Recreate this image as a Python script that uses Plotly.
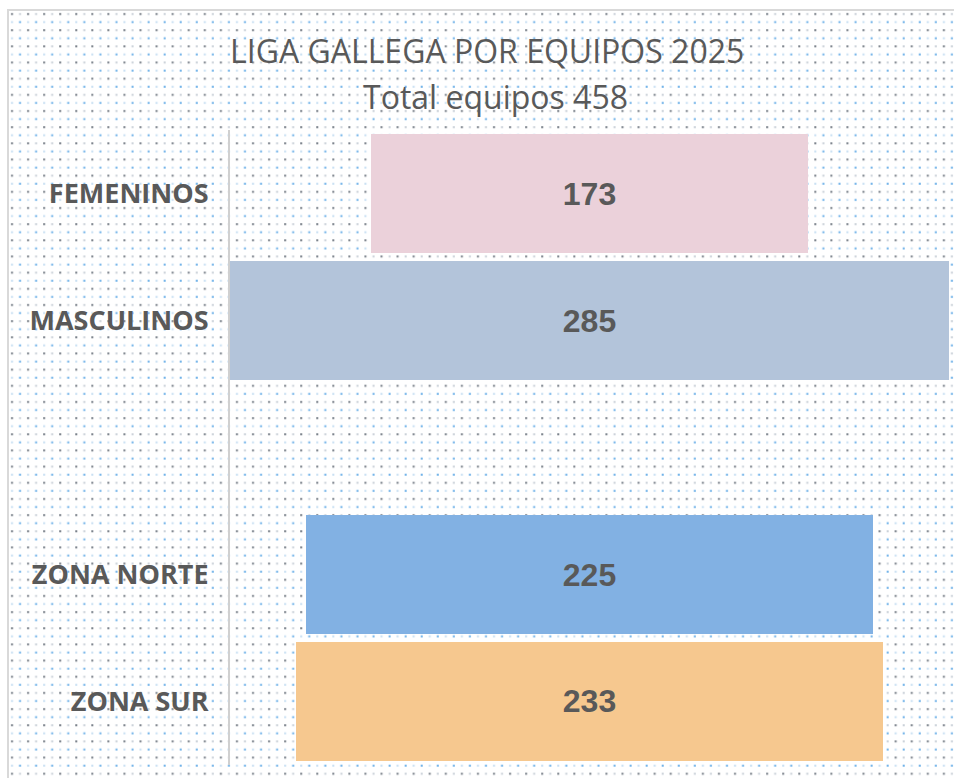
import plotly.graph_objects as go
import base64

categories = ["FEMENINOS", "MASCULINOS", " ", "ZONA NORTE", "ZONA SUR"]
values = [173, 285, None, 225, 233]
colors = ["#EBD1DA", "#B3C4DA", "rgba(0,0,0,0)", "#82B1E3", "#F6C88F"]
title_line1 = "LIGA GALLEGA POR EQUIPOS 2025"
title_line2 = "Total equipos 458"

W, H = 954, 778
ML, MR, MT, MB = 230, 5, 130, 13
PW, PH = W - ML - MR, H - MT - MB

def px_x(x):
    return (x - ML) / PW

def px_y(y):
    return (H - MB - y) / PH

# dotted background pattern (decoration)
svg = (
    '<svg xmlns="http://www.w3.org/2000/svg" width="960" height="780">'
    '<defs><pattern id="p" width="16" height="16" patternUnits="userSpaceOnUse">'
    '<rect x="3" y="3" width="2" height="2" fill="#6b737d"/>'
    '<rect x="11" y="3" width="2" height="2" fill="#c4ccd4"/>'
    '<rect x="11" y="11" width="2" height="2" fill="#5fa9e6"/>'
    '<rect x="3" y="11" width="2" height="2" fill="#c2dcf1"/>'
    '</pattern></defs>'
    '<rect width="960" height="780" fill="white"/>'
    '<rect width="960" height="780" fill="url(#p)" opacity="0.9"/>'
    '</svg>'
)
src = "data:image/svg+xml;base64," + base64.b64encode(svg.encode()).decode()

bases = [(-v / 2 if v is not None else None) for v in values]
texts = [(f"<b>{v}</b>" if v is not None else "") for v in values]

fig = go.Figure()
fig.add_trace(go.Bar(
    y=categories, x=values, base=bases, orientation="h",
    marker=dict(color=colors, line=dict(width=0)),
    width=0.93,
    text=texts, textposition="inside", insidetextanchor="middle",
    textangle=0, constraintext="none",
    textfont=dict(family="Liberation Sans, Arial", size=32, color="#595959"),
    hoverinfo="skip",
))

fig.update_layout(
    width=W, height=H,
    margin=dict(l=ML, r=MR, t=MT, b=MB, autoexpand=False),
    paper_bgcolor="white",
    plot_bgcolor="rgba(0,0,0,0)",
    showlegend=False,
    bargap=0,
    xaxis=dict(range=[-142.5, 142.5], visible=False, fixedrange=True),
    yaxis=dict(
        categoryorder="array", categoryarray=categories, autorange="reversed",
        tickmode="array", tickvals=categories,
        ticktext=[f"<b>{c}</b>" if c.strip() else "" for c in categories],
        tickfont=dict(family="Open Sans", size=27, color="#595959"),
        showline=True, linecolor="#d0d0d0", linewidth=2, fixedrange=True,
        showgrid=False, zeroline=False, ticks="", ticklabelstandoff=14,
    ),
    images=[dict(
        source=src, xref="paper", yref="paper",
        x=px_x(8), y=px_y(10),
        sizex=(W + 10) / PW, sizey=(H + 10) / PH,
        xanchor="left", yanchor="top", sizing="stretch", layer="below",
    )],
    shapes=[dict(
        type="rect", xref="paper", yref="paper",
        x0=px_x(8), x1=px_x(W + 20),
        y0=px_y(H + 20), y1=px_y(10),
        line=dict(color="#d9d9d9", width=2), fillcolor="rgba(0,0,0,0)", layer="below",
    )],
    annotations=[
        dict(text=title_line1, xref="paper", yref="paper",
             x=px_x(487), y=px_y(50), xanchor="center", yanchor="middle",
             showarrow=False, font=dict(family="Open Sans", size=32, color="#595959")),
        dict(text=title_line2, xref="paper", yref="paper",
             x=px_x(495), y=px_y(97), xanchor="center", yanchor="middle",
             showarrow=False, font=dict(family="Open Sans", size=32, color="#595959")),
    ],
)

fig.write_html(
    "out.html",
    config={"displayModeBar": False, "staticPlot": True},
    post_script="document.body.style.margin='0';document.body.style.overflow='hidden';",
)
